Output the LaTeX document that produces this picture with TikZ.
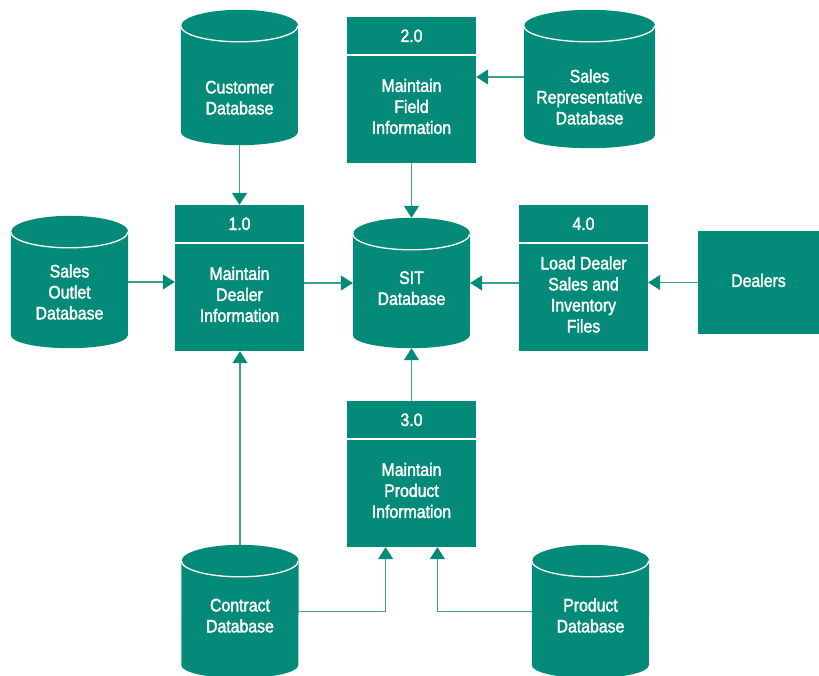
\documentclass[tikz,border=0pt]{standalone}
\usepackage{fontspec}
\setmainfont[FakeStretch=0.88,FakeBold=1.8]{Liberation Sans}
\usetikzlibrary{arrows.meta,backgrounds,calc}
\definecolor{Teal}{HTML}{038A78}
\definecolor{Flow}{HTML}{3A9F91}
\newcommand{\dfont}{\fontsize{18}{21}\selectfont}
\newcommand{\droptext}[2]{\raisebox{-#1}[0pt][0pt]{\begin{tabular}{@{}c@{}}#2\end{tabular}}}
\tikzset{proc/.style={fill=Teal,text=white,minimum width=129pt,minimum height=146pt,
    inner sep=0pt,font=\dfont},
  procnum/.style={text=white,inner sep=0pt,font=\dfont},
  extent/.style={fill=Teal,text=white,minimum width=121pt,minimum height=103pt,
    inner sep=0pt,font=\dfont},
  db/.style={text=white,minimum width=117pt,minimum height=#1,inner sep=0pt,font=\dfont},
  db/.default=130pt,
  dbfill/.style={fill=Teal},
  dbrim/.style={draw=white,line width=1.3pt},
  divider/.style={draw=white,line width=1.6pt},
  flow/.style={draw=Flow,line width=1.3pt,-{Triangle[length=12pt,width=15pt,color=Teal]}}}

\begin{document}
\begin{tikzpicture}[x=1pt,y=-1pt]
  \useasboundingbox (0,0) rectangle (819,675);
  % data stores
  \node[db=135pt] (cust) at (239.5,77.5) {\droptext{26.5pt}{Customer\\Database}};
  \node[db=132pt] (outlet) at (69.5,282) {\droptext{16.5pt}{Sales\\Outlet\\Database}};
  \node[db] (sit) at (411.5,283) {\droptext{11.5pt}{SIT\\Database}};
  \node[db=138pt,minimum width=131pt] (rep) at (589.5,79) {\droptext{24.5pt}{Sales\\Representative\\Database}};
  \node[db=133pt] (contract) at (240,611.5) {\droptext{10.5pt}{Contract\\Database}};
  \node[db=133pt] (prod) at (590.5,611.5) {\droptext{10.5pt}{Product\\Database}};
  % processes
  \node[proc] (p1) at (239.5,278) {\droptext{23pt}{Maintain\\Dealer\\Information}};
  \node[proc] (p2) at (411.5,90) {\droptext{23pt}{Maintain\\Field\\Information}};
  \node[proc] (p3) at (411.5,474) {\droptext{23pt}{Maintain\\Product\\Information}};
  \node[proc] (p4) at (583.5,278) {\droptext{23pt}{Load Dealer\\Sales and\\Inventory\\Files}};
  \node[extent] (dealers) at (758.5,282.5) {\droptext{4.5pt}{Dealers}};
  \foreach \p/\n in {p1/1.0,p2/2.0,p3/3.0,p4/4.0} {
    \node[procnum] (\p-num) at ([yshift=-19pt]\p.north) {\n};
    \draw[divider] ([yshift=-38pt]\p.north west) -- ([yshift=-38pt]\p.north east);
  }
  \begin{scope}[on background layer]
    \foreach \d/\r in {cust/58.5pt,outlet/58.5pt,sit/58.5pt,rep/65.5pt,contract/58.5pt,prod/58.5pt} {
      \fill[dbfill] ([yshift=-16pt]\d.north west) -- ([yshift=13pt]\d.south west)
        arc[start angle=180,end angle=360,x radius=\r,y radius=13pt]
        -- ([yshift=-16pt]\d.north east)
        arc[start angle=0,end angle=180,x radius=\r,y radius=16pt] -- cycle;
      \draw[dbrim] ([yshift=-16pt]\d.north west)
        arc[start angle=180,end angle=360,x radius=\r,y radius=16pt];
    }
  \end{scope}
  % flows
  \draw[flow] (cust.south) -- (cust.south |- p1.north);
  \draw[flow] (outlet.east) -- (outlet.east -| p1.west);
  \draw[flow] (p1.east |- sit.west) -- (sit.west);
  \draw[flow] (p4.west |- sit.east) -- (sit.east);
  \draw[flow] (dealers.west) -- (dealers.west -| p4.east);
  \draw[flow] ([yshift=2pt]rep.west) -- ([yshift=2pt]rep.west -| p2.east);
  \draw[flow] (p2.south) -- (sit.north);
  \draw[flow] (p3.north) -- (sit.south);
  \draw[flow] (contract.north) -- (contract.north |- p1.south);
  \draw[flow] (contract.east) -| ($(p3.south west)!0.3!(p3.south east)$);
  \draw[flow] (prod.west) -| ($(p3.south west)!0.7!(p3.south east)$);
\end{tikzpicture}
\end{document}
